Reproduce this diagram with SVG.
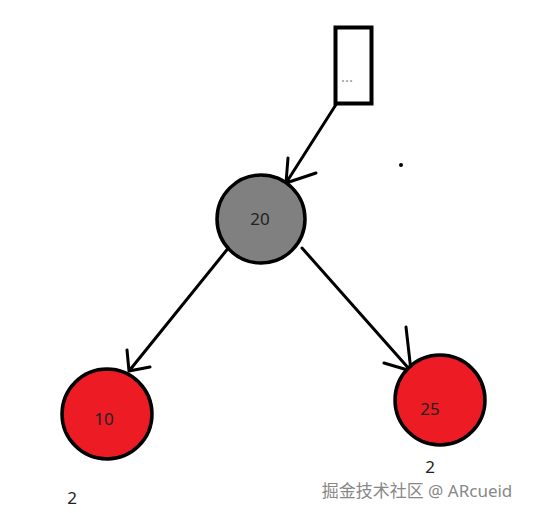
<svg xmlns="http://www.w3.org/2000/svg" width="536" height="513" viewBox="0 0 536 513">
<style>
.ln{stroke:#000;stroke-width:3;fill:none;stroke-linecap:round;stroke-linejoin:round}
.nd{stroke:#000;stroke-width:3.5}
.t{font-family:"Noto Sans","Open Sans",sans-serif;font-size:17px;fill:#222;text-anchor:middle}
</style>
<rect width="536" height="513" fill="#fff"/>
<g id="connectors">
<path class="ln" d="M337 103 L286 183 M288 158 L286 183 L316 173"/>
<path class="ln" d="M230 246 L129 371 M127 350 L129 371 L150 367"/>
<path class="ln" d="M302 248 L411 371 M406 327 L411 371 L384 363"/>
</g>
<g id="nodeTop">
<rect x="335.5" y="27.5" width="36" height="76" fill="#fff" stroke="#000" stroke-width="4"/>
<text x="347" y="82" font-family="Noto Sans,sans-serif" font-size="15" fill="#999" text-anchor="middle">...</text>
</g>
<g id="node20">
<circle cx="261" cy="219" r="44" fill="#808080" class="nd"/>
<text class="t" x="260" y="225">20</text>
</g>
<g id="node10">
<circle cx="107" cy="414" r="45" fill="#ed1c24" class="nd"/>
<text class="t" x="104" y="425">10</text>
</g>
<g id="node25">
<circle cx="440" cy="400" r="45" fill="#ed1c24" class="nd"/>
<text class="t" x="430" y="415">25</text>
</g>
<circle cx="401" cy="165" r="2" fill="#000"/>
<text class="t" x="72" y="504">2</text>
<text class="t" x="430" y="473">2</text>
<text x="417" y="497" font-family="Noto Sans,'Noto Sans CJK SC',sans-serif" font-size="17" fill="#888" text-anchor="middle">掘金技术社区 @ ARcueid</text>
</svg>
